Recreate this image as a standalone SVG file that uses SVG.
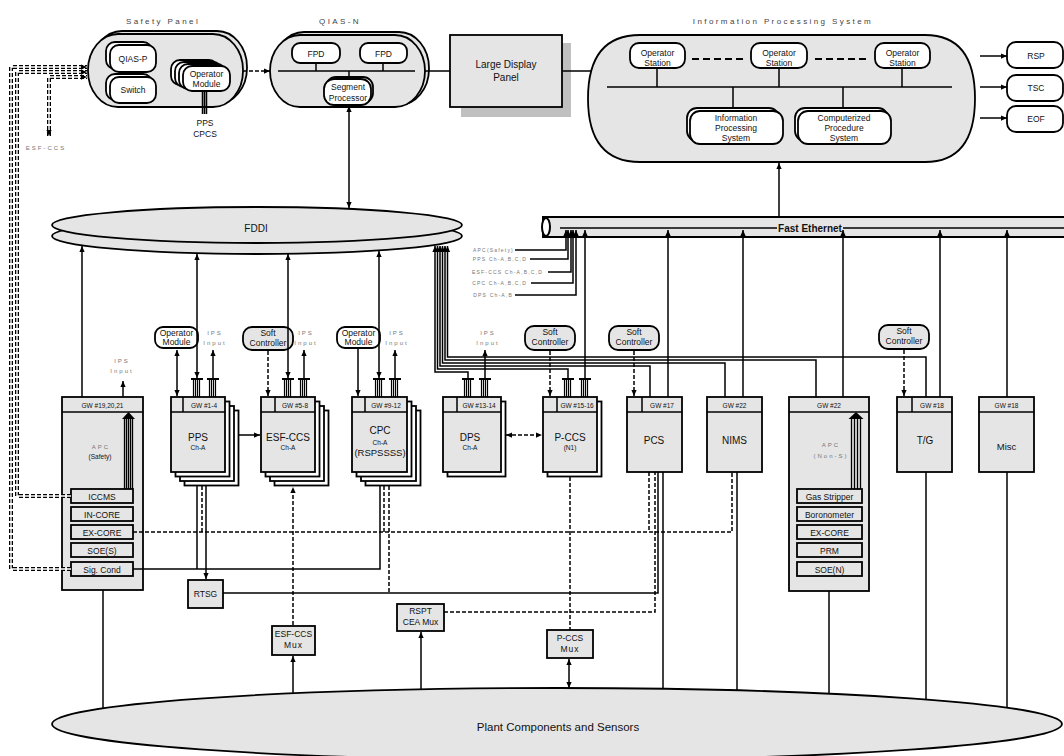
<svg xmlns="http://www.w3.org/2000/svg" width="1064" height="756" viewBox="0 0 1064 756">
<defs>
<style>
.g{fill:#e5e5e5;stroke:#000;stroke-width:1.8}
.w{fill:#fff;stroke:#000;stroke-width:1.8}
.l{fill:none;stroke:#000;stroke-width:1.5}
.d{fill:none;stroke:#000;stroke-width:1.5;stroke-dasharray:4 2}
.dd{fill:none;stroke:#000;stroke-width:2;stroke-dasharray:7 4}
.ro{fill:none;stroke:#000;stroke-width:4;stroke-dasharray:4 2}
.ri{fill:none;stroke:#fff;stroke-width:1.4}
.bun{fill:none;stroke:#000;stroke-width:1.3}
text{font-family:"Liberation Sans",Arial,sans-serif;text-anchor:middle;fill:#111}
.f11{font-size:11.5px}
.f10{font-size:10px}
.f9{font-size:9.5px}
.f8{font-size:8.5px}
.f7{font-size:6.5px}
.sp{font-size:6px;fill:#777;letter-spacing:2px}
.ev{font-size:5px;fill:#777;letter-spacing:1.2px;text-anchor:end}
.ti{font-size:8px;fill:#444;letter-spacing:2.4px}
</style>
<marker id="a" viewBox="0 0 8 8" refX="8" refY="4" markerWidth="6" markerHeight="6" orient="auto-start-reverse" markerUnits="userSpaceOnUse"><path d="M0,0.5L8,4L0,7.5z" fill="#000"/></marker>
<g id="tm" fill="none" stroke="#000"><path d="M-6,0H6" stroke-width="2"/><path d="M-3.5,0V18M-1.5,0V18M0.5,0V18M2.5,0V18" stroke-width="1.2"/></g>
<path id="r1" d="M71,569H11V67H87"/>
<path id="r2" d="M71,496H17V72H87"/>
<path id="r3" d="M49,136V77H87"/>
</defs>

<g id="plant">
<ellipse class="g" cx="557" cy="724" rx="505" ry="36"/>
<text class="f11" x="558" y="731">Plant Components and Sensors</text>
</g>

<g id="fddi">
<ellipse class="g" cx="257" cy="236" rx="205" ry="18"/>
<ellipse class="g" cx="257" cy="225" rx="205" ry="18"/>
<text class="f10" x="256" y="232">FDDI</text>
</g>

<g id="fast-ethernet">
<rect x="543" y="217" width="530" height="20" fill="#e5e5e5" stroke="#000" stroke-width="2"/>
<ellipse cx="546" cy="227" rx="4" ry="9" fill="#fff" stroke="#000" stroke-width="2"/>
<path class="l" d="M560,228H1064"/>
<rect x="777" y="221" width="66" height="13" fill="#e5e5e5"/>
<text class="f10" x="810" y="231.5" font-weight="bold">Fast Ethernet</text>
</g>

<g id="safety-panel">
<text class="ti" x="163" y="24">Safety Panel</text>
<rect class="g" x="92" y="31" width="155" height="73" rx="30" ry="36"/>
<rect class="g" x="88" y="34" width="155" height="73" rx="30" ry="36"/>
<rect class="w" x="106" y="42" width="46" height="27" rx="9"/>
<rect class="w" x="110" y="45" width="46" height="27" rx="9"/>
<text class="f8" x="133" y="62">QIAS-P</text>
<rect class="w" x="106" y="74" width="46" height="26" rx="9"/>
<rect class="w" x="110" y="77" width="46" height="26" rx="9"/>
<text class="f8" x="133" y="93">Switch</text>
<rect class="w" x="171" y="60" width="47" height="25" rx="9"/>
<rect class="w" x="175" y="62" width="47" height="25" rx="9"/>
<rect class="w" x="179" y="64" width="47" height="25" rx="9"/>
<rect class="w" x="183" y="66" width="47" height="25" rx="9"/>
<text class="f8" x="206.5" y="77">Operator</text>
<text class="f8" x="206.5" y="87">Module</text>
<path d="M202.5,92V114M204.5,92V114M206.5,92V114" stroke="#000" stroke-width="1.5"/>
<text class="f8" x="205" y="126">PPS</text>
<text class="f8" x="205" y="137">CPCS</text>
<text class="sp" x="46" y="150">ESF-CCS</text>
</g>

<g id="qias-n">
<text class="ti" x="340" y="24">QIAS-N</text>
<rect class="g" x="274" y="32" width="155" height="73" rx="30" ry="36"/>
<rect class="g" x="270" y="35" width="155" height="72" rx="30" ry="36"/>
<rect class="w" x="292" y="43" width="48" height="20" rx="8"/>
<text class="f8" x="316" y="57">FPD</text>
<rect class="w" x="360" y="43" width="47" height="20" rx="8"/>
<text class="f8" x="383.5" y="57">FPD</text>
<path class="l" d="M278,71H415M316,63V71M383,63V71M349,71V78" stroke-width="2"/>
<rect class="w" x="326" y="77" width="47" height="26" rx="10"/>
<rect class="w" x="324" y="79" width="47" height="26" rx="10"/>
<text class="f8" x="348" y="90">Segment</text>
<text class="f8" x="348" y="101">Processor</text>
</g>

<g id="large-display-panel">
<rect x="461" y="43" width="110" height="74" fill="#c0c0c0"/>
<rect class="g" x="450" y="35" width="112" height="72"/>
<text class="f10" x="506" y="68">Large Display</text>
<text class="f10" x="506" y="81">Panel</text>
</g>

<g id="ips">
<text class="ti" x="783" y="24">Information Processing System</text>
<path class="g" d="M640,35H925Q975,35 975,98.5Q975,162 925,162H640Q588,162 588,98.5Q588,35 640,35Z"/>
<rect class="w" x="630" y="43" width="55" height="25" rx="9"/>
<text class="f8" x="657.5" y="56">Operator</text>
<text class="f8" x="657.5" y="66">Station</text>
<rect class="w" x="751" y="43" width="56" height="25" rx="9"/>
<text class="f8" x="779" y="56">Operator</text>
<text class="f8" x="779" y="66">Station</text>
<rect class="w" x="875" y="43" width="55" height="25" rx="9"/>
<text class="f8" x="902.5" y="56">Operator</text>
<text class="f8" x="902.5" y="66">Station</text>
<path class="dd" d="M692,59H745M815,59H868"/>
<path class="l" d="M607,87H952M657,68V87M779,68V87M902,68V87M733,87V110M843,87V110" stroke-width="2"/>
<rect class="w" x="687" y="108" width="92" height="33" rx="10"/>
<rect class="w" x="690" y="111" width="93" height="33" rx="10"/>
<text class="f8" x="736" y="121">Information</text>
<text class="f8" x="736" y="131">Processing</text>
<text class="f8" x="736" y="141">System</text>
<rect class="w" x="795" y="108" width="93" height="33" rx="10"/>
<rect class="w" x="798" y="111" width="93" height="33" rx="10"/>
<text class="f8" x="844" y="121">Computerized</text>
<text class="f8" x="844" y="131">Procedure</text>
<text class="f8" x="844" y="141">System</text>
</g>

<g id="rsp"><rect class="w" x="1007" y="42" width="56" height="26" rx="9"/><text class="f8" x="1036" y="59">RSP</text></g>
<g id="tsc"><rect class="w" x="1007" y="75" width="56" height="26" rx="9"/><text class="f8" x="1036" y="91">TSC</text></g>
<g id="eof"><rect class="w" x="1007" y="106" width="56" height="26" rx="9"/><text class="f8" x="1036" y="122">EOF</text></g>

<g id="apc-safety">
<rect class="g" x="62" y="397" width="81" height="193"/>
<path class="l" d="M62,412H143"/>
<text class="f7" x="102.5" y="408">GW #19,20,21</text>
<text class="sp" x="101" y="449">APC</text>
<text class="f7" x="100" y="459">(Safety)</text>
<path class="bun" d="M124.5,418V489M126.5,418V489M128.5,418V489M130.5,418V489M132.5,418V489"/>
<path d="M122,419L128.5,412L135,419z" fill="#000"/>
<rect class="g" x="71" y="489" width="62" height="14"/><text class="f8" x="102" y="499.5">ICCMS</text>
<rect class="g" x="71" y="507" width="62" height="14"/><text class="f8" x="102" y="517.5">IN-CORE</text>
<rect class="g" x="71" y="525" width="62" height="14"/><text class="f8" x="102" y="535.5">EX-CORE</text>
<rect class="g" x="71" y="543" width="62" height="14"/><text class="f8" x="102" y="553.5">SOE(S)</text>
<rect class="g" x="71" y="562" width="62" height="14"/><text class="f8" x="102" y="572.5">Sig. Cond</text>
</g>

<g id="pps">
<rect class="w" x="184.5" y="410.5" width="54" height="75"/>
<rect class="w" x="180" y="406" width="54" height="75"/>
<rect class="w" x="175.5" y="401.5" width="54" height="75"/>
<rect class="g" x="171" y="397" width="54" height="75"/>
<path class="l" d="M171,412H225M183,397V412"/>
<text class="f7" x="204" y="408">GW #1-4</text>
<text class="f10" x="198" y="441">PPS</text>
<text class="f7" x="198" y="450">Ch-A</text>
</g>

<g id="esf-ccs">
<rect class="w" x="274.5" y="410.5" width="54" height="75"/>
<rect class="w" x="270" y="406" width="54" height="75"/>
<rect class="w" x="265.5" y="401.5" width="54" height="75"/>
<rect class="g" x="261" y="397" width="54" height="75"/>
<path class="l" d="M261,412H315M275,397V412"/>
<text class="f7" x="295" y="408">GW #5-8</text>
<text class="f10" x="288" y="441">ESF-CCS</text>
<text class="f7" x="288" y="450">Ch-A</text>
</g>

<g id="cpc">
<rect class="w" x="365.5" y="410.5" width="55" height="75"/>
<rect class="w" x="361" y="406" width="55" height="75"/>
<rect class="w" x="356.5" y="401.5" width="55" height="75"/>
<rect class="g" x="352" y="397" width="55" height="75"/>
<path class="l" d="M352,412H407M365,397V412"/>
<text class="f7" x="386" y="408">GW #9-12</text>
<text class="f10" x="380" y="434">CPC</text>
<text class="f7" x="380" y="444.5">Ch-A</text>
<text class="f9" x="380" y="456">(RSPSSSS)</text>
</g>

<g id="dps">
<rect class="w" x="447.5" y="401.5" width="58" height="75"/>
<rect class="g" x="443" y="397" width="58" height="75"/>
<path class="l" d="M443,412H501M457,397V412"/>
<text class="f7" x="479" y="408">GW #13-14</text>
<text class="f10" x="470" y="441">DPS</text>
<text class="f7" x="470" y="450">Ch-A</text>
</g>

<g id="p-ccs">
<rect class="w" x="547.5" y="401.5" width="54" height="75"/>
<rect class="g" x="543" y="397" width="54" height="75"/>
<path class="l" d="M543,412H597M557,397V412"/>
<text class="f7" x="577" y="408">GW #15-16</text>
<text class="f10" x="570" y="441">P-CCS</text>
<text class="f7" x="570" y="450">(N1)</text>
</g>

<g id="pcs">
<rect class="g" x="627" y="397" width="55" height="75"/>
<path class="l" d="M627,412H682M642,397V412"/>
<text class="f7" x="662" y="408">GW #17</text>
<text class="f10" x="654" y="444">PCS</text>
</g>

<g id="nims">
<rect class="g" x="707" y="397" width="55" height="75"/>
<path class="l" d="M707,412H762"/>
<text class="f7" x="734.5" y="408">GW #22</text>
<text class="f10" x="734.5" y="444">NIMS</text>
</g>

<g id="apc-non-s">
<rect class="g" x="789" y="397" width="80" height="194"/>
<path class="l" d="M789,412H869"/>
<text class="f7" x="829" y="408">GW #22</text>
<text class="sp" x="831" y="447">APC</text>
<text class="sp" x="831" y="458">(Non-S)</text>
<path class="bun" d="M851.5,418V489M854.5,418V489M857.5,418V489M860.5,418V489"/>
<path d="M848.5,419L856,412L863.5,419z" fill="#000"/>
<rect class="g" x="797" y="489" width="65" height="14"/><text class="f8" x="829.5" y="499.5">Gas  Stripper</text>
<rect class="g" x="797" y="507" width="65" height="14"/><text class="f8" x="829.5" y="517.5">Boronometer</text>
<rect class="g" x="797" y="525" width="65" height="14"/><text class="f8" x="829.5" y="535.5">EX-CORE</text>
<rect class="g" x="797" y="543" width="65" height="14"/><text class="f8" x="829.5" y="553.5">PRM</text>
<rect class="g" x="797" y="562" width="65" height="14"/><text class="f8" x="829.5" y="572.5">SOE(N)</text>
</g>

<g id="t-g">
<rect class="g" x="897" y="397" width="55" height="75"/>
<path class="l" d="M897,412H952M912,397V412"/>
<text class="f7" x="932" y="408">GW #18</text>
<text class="f10" x="925" y="444">T/G</text>
</g>

<g id="misc">
<rect class="g" x="979" y="397" width="55" height="75"/>
<path class="l" d="M979,412H1034"/>
<text class="f7" x="1006.5" y="408">GW #18</text>
<text class="f9" x="1006.5" y="450">Misc</text>
</g>

<g id="operator-module-1"><rect class="w" x="155" y="327" width="43" height="21" rx="8"/><text class="f8" x="176.5" y="336">Operator</text><text class="f8" x="176.5" y="345">Module</text></g>
<g id="soft-controller-1"><rect class="g" x="243" y="327" width="50" height="23" rx="9"/><text class="f8" x="268" y="336">Soft</text><text class="f8" x="268" y="346">Controller</text></g>
<g id="operator-module-2"><rect class="w" x="337" y="327" width="43" height="21" rx="8"/><text class="f8" x="358.5" y="336">Operator</text><text class="f8" x="358.5" y="345">Module</text></g>
<g id="soft-controller-2"><rect class="g" x="525" y="326" width="50" height="24" rx="9"/><text class="f8" x="550" y="335">Soft</text><text class="f8" x="550" y="345">Controller</text></g>
<g id="soft-controller-3"><rect class="g" x="609" y="326" width="50" height="24" rx="9"/><text class="f8" x="634" y="335">Soft</text><text class="f8" x="634" y="345">Controller</text></g>
<g id="soft-controller-4"><rect class="g" x="879" y="325" width="50" height="24" rx="9"/><text class="f8" x="904" y="334">Soft</text><text class="f8" x="904" y="344">Controller</text></g>

<g id="rtsg"><rect class="g" x="188" y="580" width="35" height="28"/><text class="f8" x="205.5" y="597">RTSG</text></g>
<g id="esf-ccs-mux"><rect class="g" x="272" y="626" width="43" height="29"/><text class="f8" x="293.5" y="637">ESF-CCS</text><text class="f8" x="293.5" y="648" letter-spacing="1">Mux</text></g>
<g id="rspt-cea-mux"><rect class="g" x="397" y="604" width="47" height="27"/><text class="f8" x="420.5" y="614">RSPT</text><text class="f8" x="420.5" y="625">CEA Mux</text></g>
<g id="p-ccs-mux"><rect class="g" x="547" y="630" width="46" height="28"/><text class="f8" x="570" y="641">P-CCS</text><text class="f8" x="570" y="652" letter-spacing="1">Mux</text></g>

<g id="labels">
<text class="sp" x="122" y="363">IPS</text><text class="sp" x="122" y="373">Input</text>
<text class="sp" x="215" y="335">IPS</text><text class="sp" x="215" y="345">Input</text>
<text class="sp" x="306" y="335">IPS</text><text class="sp" x="306" y="345">Input</text>
<text class="sp" x="397" y="335">IPS</text><text class="sp" x="397" y="345">Input</text>
<text class="sp" x="488" y="335">IPS</text><text class="sp" x="488" y="345">Input</text>
<text class="ev" x="514" y="252">APC(Safety)</text>
<text class="ev" x="527" y="261">PPS Ch-A,B,C,D</text>
<text class="ev" x="543" y="274">ESF-CCS Ch-A,B,C,D</text>
<text class="ev" x="527" y="285">CPC Ch-A,B,C,D</text>
<text class="ev" x="513" y="297">DPS Ch-A,B</text>
</g>

<g id="connectors">
<use href="#r1" class="ro"/><use href="#r1" class="ri" marker-end="url(#a)"/>
<use href="#r2" class="ro"/><use href="#r2" class="ri" marker-end="url(#a)"/>
<use href="#r3" class="ro"/><use href="#r3" class="ri" marker-start="url(#a)" marker-end="url(#a)"/>
<path class="d" d="M243,71H270" marker-end="url(#a)"/>
<path class="l" d="M425,71H450M562,71H591"/>
<path class="l" d="M980,56H1007" marker-end="url(#a)"/>
<path class="l" d="M980,87H1007" marker-end="url(#a)"/>
<path class="l" d="M980,118H1007" marker-end="url(#a)"/>
<path class="l" d="M349,106V208" marker-start="url(#a)" marker-end="url(#a)"/>
<path class="l" d="M779,217V163" marker-end="url(#a)"/>
<path class="l" d="M82,397V246" marker-end="url(#a)"/>
<path class="l" d="M197,254V378" marker-start="url(#a)" marker-end="url(#a)"/>
<path class="l" d="M288,254V378" marker-start="url(#a)" marker-end="url(#a)"/>
<path class="l" d="M379,251V378" marker-start="url(#a)" marker-end="url(#a)"/>
<path class="l" d="M468,379V372H435V246" marker-end="url(#a)"/>
<path class="l" d="M568,379V369H437.5V246" marker-end="url(#a)"/>
<path class="l" d="M650,397V366H440V246" marker-end="url(#a)"/>
<path class="l" d="M725,397V363H442.5V246" marker-end="url(#a)"/>
<path class="l" d="M816,397V360H445V246" marker-end="url(#a)"/>
<path class="l" d="M926,397V357H447.5V246" marker-end="url(#a)"/>
<path class="l" d="M515,250H566V230" marker-end="url(#a)"/>
<path class="l" d="M530,259H568V230" marker-end="url(#a)"/>
<path class="l" d="M548,272H571V230" marker-end="url(#a)"/>
<path class="l" d="M531,283H573V230" marker-end="url(#a)"/>
<path class="l" d="M515,295H576V230" marker-end="url(#a)"/>
<path class="l" d="M585,379V230" marker-end="url(#a)"/>
<path class="l" d="M668,397V230" marker-end="url(#a)"/>
<path class="l" d="M743,397V230" marker-end="url(#a)"/>
<path class="l" d="M843,397V230" marker-end="url(#a)"/>
<path class="l" d="M940,397V230" marker-end="url(#a)"/>
<path class="l" d="M1007,397V230" marker-end="url(#a)"/>
<use href="#tm" x="197" y="379"/><use href="#tm" x="213" y="379"/>
<use href="#tm" x="288" y="379"/><use href="#tm" x="304" y="379"/>
<use href="#tm" x="379" y="379"/><use href="#tm" x="395" y="379"/>
<use href="#tm" x="468" y="379"/><use href="#tm" x="485" y="379"/>
<use href="#tm" x="568" y="379"/><use href="#tm" x="585" y="379"/>
<path class="l" d="M123,397V381" marker-end="url(#a)"/>
<path class="l" d="M213,379V350" marker-end="url(#a)"/>
<path class="l" d="M304,379V350" marker-end="url(#a)"/>
<path class="l" d="M395,379V350" marker-end="url(#a)"/>
<path class="l" d="M485,379V350" marker-end="url(#a)"/>
<path class="l" d="M177,350V396" marker-start="url(#a)" marker-end="url(#a)"/>
<path class="d" d="M268,351V396" marker-end="url(#a)"/>
<path class="l" d="M358,349V396" marker-end="url(#a)"/>
<path class="d" d="M550,351V396" marker-end="url(#a)"/>
<path class="d" d="M634,351V396" marker-end="url(#a)"/>
<path class="d" d="M904,350V396" marker-end="url(#a)"/>
<path class="l" d="M238.5,435H260" marker-end="url(#a)"/>
<path class="d" d="M506,435H542" marker-start="url(#a)" marker-end="url(#a)"/>
<path class="l" d="M103,590V708"/>
<path class="l" d="M133,569H380V486M197,486V569"/>
<path class="d" d="M133,532H732V472M202,486V532M384,486V532M649,472V532"/>
<path class="l" d="M206,486V579" marker-end="url(#a)"/>
<path class="l" d="M223,593H658V472"/>
<path class="d" d="M389,486V593"/>
<path class="d" d="M293,625V487" marker-end="url(#a)"/>
<path class="l" d="M293,693V656" marker-end="url(#a)"/>
<path class="d" d="M444,612H655V472"/>
<path class="l" d="M421,689V632" marker-end="url(#a)"/>
<path class="d" d="M570,477V630"/>
<path class="l" d="M569,659V688" marker-start="url(#a)" marker-end="url(#a)"/>
<path class="l" d="M663,472V689"/>
<path class="l" d="M737,472V690"/>
<path class="l" d="M829,591V694"/>
<path class="l" d="M926,472V699"/>
<path class="l" d="M1007,472V708"/>
</g>
</svg>
